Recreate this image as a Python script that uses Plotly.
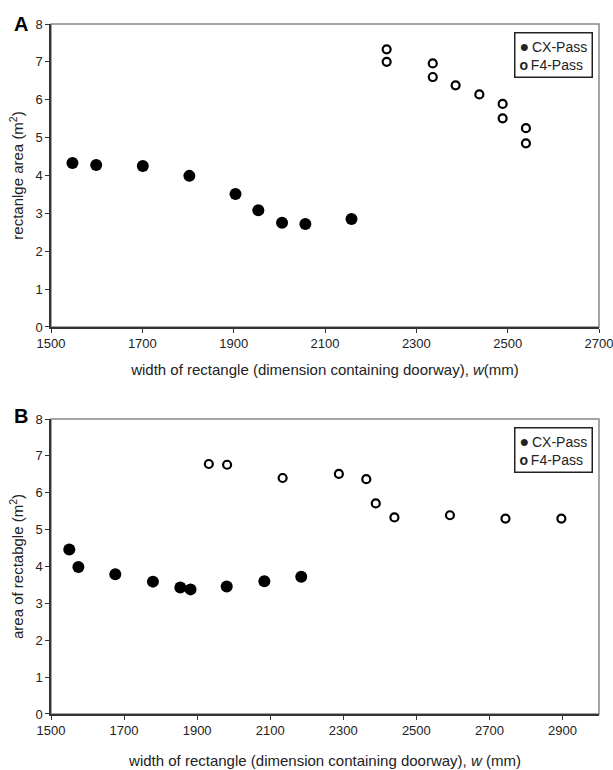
import plotly.graph_objects as go

# Panel A data
a_cx_x = [1547, 1599, 1701, 1803, 1904, 1954, 2006, 2057, 2158]
a_cx_y = [4.33, 4.28, 4.25, 3.99, 3.51, 3.08, 2.75, 2.72, 2.85]
a_f4_x = [2235, 2235, 2336, 2336, 2386, 2438, 2489, 2489, 2540, 2540]
a_f4_y = [7.33, 7.00, 6.96, 6.60, 6.38, 6.14, 5.89, 5.51, 5.25, 4.85]

# Panel B data
b_cx_x = [1550, 1575, 1676, 1779, 1854, 1882, 1981, 2084, 2185]
b_cx_y = [4.46, 3.99, 3.79, 3.59, 3.43, 3.38, 3.46, 3.60, 3.72]
b_f4_x = [1932, 1982, 2134, 2288, 2363, 2389, 2440, 2592, 2744, 2897]
b_f4_y = [6.78, 6.76, 6.40, 6.51, 6.37, 5.71, 5.33, 5.39, 5.30, 5.30]

series_names = ["CX-Pass", "F4-Pass"]
a_xticks = [1500, 1700, 1900, 2100, 2300, 2500, 2700]
b_xticks = [1500, 1700, 1900, 2100, 2300, 2500, 2700, 2900]
yticks = [0, 1, 2, 3, 4, 5, 6, 7, 8]

FONT = "Liberation Sans, Arial, sans-serif"
cx_marker = dict(symbol="circle", size=12, color="black", line=dict(width=0))
f4_marker = dict(symbol="circle-open", size=8, color="black", line=dict(width=2.2, color="black"))

fig = go.Figure()
fig.add_trace(go.Scatter(x=a_cx_x, y=a_cx_y, mode="markers", name=series_names[0],
                         marker=cx_marker, xaxis="x", yaxis="y", showlegend=False))
fig.add_trace(go.Scatter(x=a_f4_x, y=a_f4_y, mode="markers", name=series_names[1],
                         marker=f4_marker, xaxis="x", yaxis="y", showlegend=False))
fig.add_trace(go.Scatter(x=b_cx_x, y=b_cx_y, mode="markers", name=series_names[0],
                         marker=cx_marker, xaxis="x2", yaxis="y2", showlegend=False))
fig.add_trace(go.Scatter(x=b_f4_x, y=b_f4_y, mode="markers", name=series_names[1],
                         marker=f4_marker, xaxis="x2", yaxis="y2", showlegend=False))

axis_common = dict(showgrid=False, zeroline=False, showline=True, linecolor="#333333",
                   linewidth=1.5, ticks="outside", ticklen=4, tickcolor="#333333",
                   automargin=False, ticklabeloverflow="allow",
                   tickfont=dict(family=FONT, size=13, color="#222222"))

fig.update_layout(
    width=613, height=770,
    margin=dict(l=51, r=14, t=24, b=56),
    paper_bgcolor="white", plot_bgcolor="white",
    font=dict(family=FONT, color="#222222"),
    showlegend=False,
    xaxis=dict(domain=[0, 1], range=[1500, 2700], tickvals=a_xticks, anchor="y",
               title=dict(text="width of rectangle (dimension containing doorway), <i>w</i>(mm)",
                          font=dict(family=FONT, size=15), standoff=14),
               **axis_common),
    yaxis=dict(domain=[0.5609, 1], range=[0, 8], tickvals=yticks, anchor="x",
               title=dict(text="rectanlge area (m<sup>2</sup>)", font=dict(family=FONT, size=15), standoff=8),
               **axis_common),
    xaxis2=dict(domain=[0, 1], range=[1500, 3000], tickvals=b_xticks, anchor="y2",
                title=dict(text="width of rectangle (dimension containing doorway), <i>w</i> (mm)",
                           font=dict(family=FONT, size=15), standoff=18),
                **axis_common),
    yaxis2=dict(domain=[0, 0.4275], range=[0, 8], tickvals=yticks, anchor="x2",
                title=dict(text="area of rectabgle (m<sup>2</sup>)", font=dict(family=FONT, size=15), standoff=8),
                **axis_common),
    shapes=[
        dict(type="rect", xref="x domain", yref="y domain", x0=0, x1=1, y0=0, y1=1,
             line=dict(color="#888888", width=1.5), layer="below"),
        dict(type="rect", xref="x2 domain", yref="y2 domain", x0=0, x1=1, y0=0, y1=1,
             line=dict(color="#888888", width=1.5), layer="below"),
    ],
)

legend_text = ("<span style='font-size:16px'>\u25CF</span>\u2009" + series_names[0] + "<br>"
               + "<b>o</b>\u2009" + series_names[1])

fig.layout.annotations = [
    dict(text="<b>A</b>", x=-0.071, y=1.0, xref="paper", yref="paper", showarrow=False,
         xanchor="left", yanchor="middle", font=dict(family=FONT, size=20, color="black")),
    dict(text="<b>B</b>", x=-0.071, y=0.432, xref="paper", yref="paper", showarrow=False,
         xanchor="left", yanchor="middle", font=dict(family=FONT, size=20, color="black")),
    dict(text=legend_text, xref="x domain", yref="y domain", x=0.989, y=0.974,
         xanchor="right", yanchor="top", showarrow=False, align="left",
         bordercolor="#222222", borderwidth=1.5, borderpad=4, bgcolor="white",
         font=dict(family=FONT, size=14, color="#222222")),
    dict(text=legend_text, xref="x2 domain", yref="y2 domain", x=0.989, y=0.974,
         xanchor="right", yanchor="top", showarrow=False, align="left",
         bordercolor="#222222", borderwidth=1.5, borderpad=4, bgcolor="white",
         font=dict(family=FONT, size=14, color="#222222")),
]

fig.write_html("out.html", config={"displayModeBar": False},
               post_script="document.body.style.margin='0px';document.body.style.overflow='hidden';")
